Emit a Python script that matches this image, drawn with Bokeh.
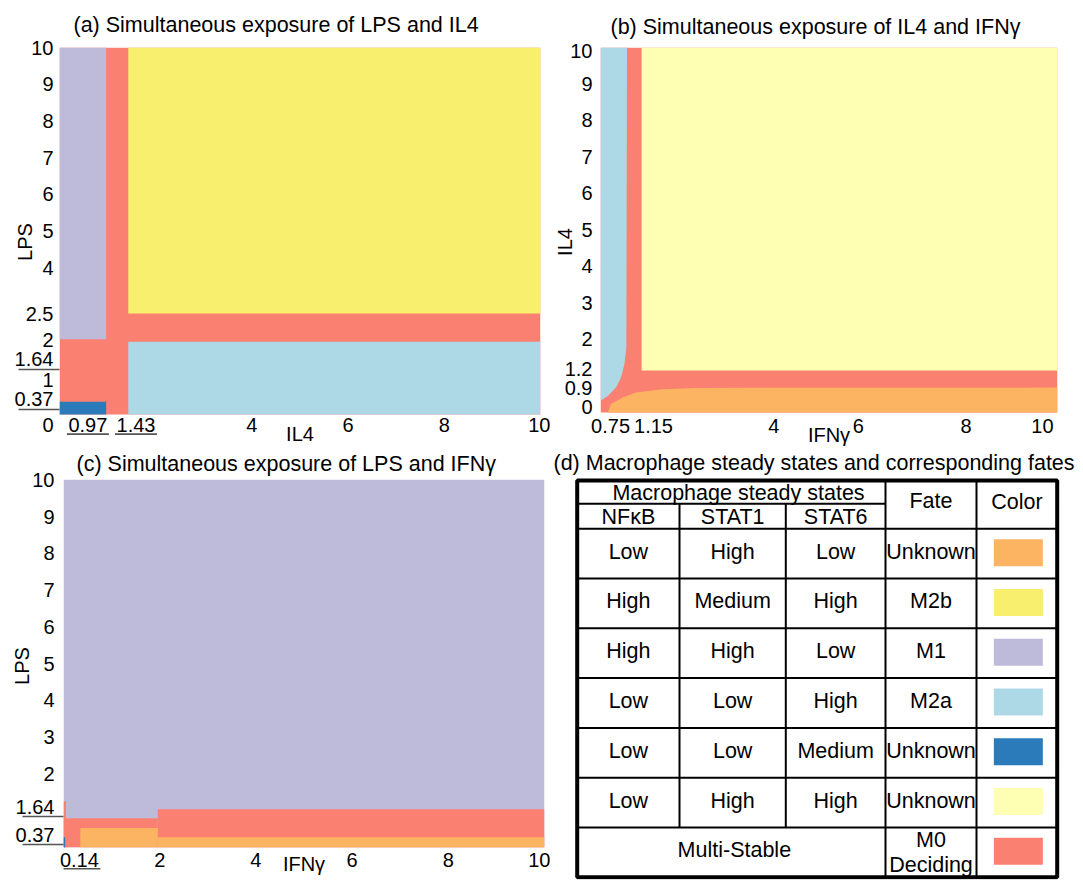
from bokeh.plotting import figure
from bokeh.models import Range1d, FixedTicker
from bokeh.layouts import row, column
from bokeh.embed import file_html
from bokeh.resources import INLINE
from bokeh.core.properties import value

FONT = "Liberation Sans"
TITLE_SIZE = "21.5px"
TICK_SIZE = "20px"
AXLBL_SIZE = "20px"
UL_COLOR = "#555555"
UL_LEN = 41

# ---------------- colours of the steady states ----------------
STATE_COLORS = {
    "U1": "#FDB462",   # Low / High / Low   -> Unknown (orange)
    "M2b": "#F9EF6E",  # High / Medium / High
    "M1": "#BEBADA",   # High / High / Low
    "M2a": "#ADD8E6",  # Low / Low / High
    "U2": "#2B7BBA",   # Low / Low / Medium -> Unknown (dark blue)
    "U3": "#FFFFB3",   # Low / High / High  -> Unknown (pale yellow)
    "M0": "#FA8072",   # multi-stable, deciding
}

# ---------------- panel (a): LPS vs IL4 ----------------
a_title = "(a) Simultaneous exposure of LPS and IL4"
a_il4_lo = [0, 0, 1.43, 1.43, 0]
a_il4_hi = [10, 0.97, 10, 10, 0.97]
a_lps_lo = [0, 2.05, 2.75, 0, 0]
a_lps_hi = [10, 10, 10, 1.98, 0.35]
a_state = ["M0", "M1", "M2b", "M2a", "U2"]
a_xtick_labels = ["0.97", "1.43", "4", "6", "8", "10"]
a_xtick_at = [0.59, 1.59, 4.0, 6.0, 8.0, 10.0]
a_ytick_labels = ["0", "0.37", "1", "1.64", "2", "2.5", "4", "5", "6", "7", "8", "9", "10"]
a_ytick_at = [-0.29, 0.43, 0.95, 1.52, 2.04, 2.74, 4.0, 5.0, 6.0, 7.0, 8.0, 9.0, 10.0]
a_underlined_x = ["0.97", "1.43"]
a_underlined_y = ["0.37", "1.64"]

# ---------------- panel (b): IL4 vs IFNg ----------------
b_title = "(b) Simultaneous exposure of IL4 and IFN\u03b3"
b_ifng_lo = [0, 0.9]
b_ifng_hi = [10, 10]
b_il4_lo = [0, 1.15]
b_il4_hi = [10, 10]
b_state = ["M0", "U3"]
b_m2a_ifng = [0, 0.58, 0.566, 0.523, 0.449, 0.34, 0.159, 0]
b_m2a_il4 = [10, 10, 1.77, 1.32, 0.95, 0.68, 0.45, 0.32]
b_u1_ifng = [0.159, 0.231, 0.486, 0.776, 1.357, 2.083, 10, 10]
b_u1_il4 = [0, 0.228, 0.408, 0.544, 0.636, 0.671, 0.68, 0]
b_xtick_labels = ["0.75", "1.15", "4", "6", "8", "10"]
b_xtick_at = [0.22, 1.16, 3.79, 5.64, 8.0, 9.67]
b_ytick_labels = ["0", "0.9", "1.2", "2", "3", "4", "5", "6", "7", "8", "9", "10"]
b_ytick_at = [0.14, 0.68, 1.18, 2.0, 3.0, 4.0, 5.0, 6.0, 7.0, 8.0, 9.0, 9.9]

# ---------------- panel (c): LPS vs IFNg ----------------
c_title = "(c) Simultaneous exposure of LPS and IFN\u03b3"
c_ifng_lo = [0, 0, 1.96, 0.35, 1.96, 0, 0]
c_ifng_hi = [10, 1.96, 10, 1.96, 10, 0.05, 0.035]
c_lps_lo = [0, 0, 0, 0, 0, 0, 0]
c_lps_hi = [10, 0.79, 1.03, 0.52, 0.27, 1.25, 0.27]
c_state = ["M1", "M0", "M0", "U1", "U1", "M0", "U2"]
c_xtick_labels = ["0.14", "2", "4", "6", "8", "10"]
c_xtick_at = [0.33, 2.0, 4.0, 6.0, 8.0, 10.0]
c_ytick_labels = ["0.37", "1.64", "2", "3", "4", "5", "6", "7", "8", "9", "10"]
c_ytick_at = [0.32, 1.09, 2.0, 3.0, 4.0, 5.0, 6.0, 7.0, 8.0, 9.0, 10.0]
c_underlined_x = ["0.14"]
c_underlined_y = ["0.37", "1.64"]

# ---------------- panel (d): table ----------------
d_title = "(d) Macrophage steady states and corresponding fates"
tbl_nfkb = ["Low", "High", "High", "Low", "Low", "Low"]
tbl_stat1 = ["High", "Medium", "High", "Low", "Low", "High"]
tbl_stat6 = ["Low", "High", "Low", "High", "Medium", "High"]
tbl_fate = ["Unknown", "M2b", "M1", "M2a", "Unknown", "Unknown", "M0 Deciding"]
tbl_state = ["U1", "M2b", "M1", "M2a", "U2", "U3", "M0"]
tbl_multi = "Multi-Stable"


def base_fig(w, h, bl, br, bt, bb, xr=(0, 10), yr=(0, 10), axes=True, title=None):
    kw = {}
    if not axes:
        kw = dict(x_axis_location=None, y_axis_location=None)
    p = figure(width=w, height=h, x_range=Range1d(*xr), y_range=Range1d(*yr),
               output_backend="svg", toolbar_location=None, tools="",
               min_border_left=bl, min_border_right=br, min_border_top=bt,
               min_border_bottom=bb, title=title, **kw)
    p.outline_line_color = None
    p.grid.visible = False
    p.background_fill_color = "white"
    p.border_fill_color = "white"
    return p


def style_title(p, offset, standoff):
    p.title.text_font = FONT
    p.title.text_font_size = TITLE_SIZE
    p.title.text_font_style = "normal"
    p.title.text_color = "black"
    p.title.align = "left"
    p.title.offset = offset
    p.title.standoff = standoff


def style_axis(ax, at, labels, label_standoff, title, title_standoff, minor=()):
    ax.ticker = FixedTicker(ticks=list(at), minor_ticks=list(minor))
    ax.major_label_overrides = {float(t): l for t, l in zip(at, labels)}
    ax.axis_line_color = None
    ax.major_tick_line_color = None
    ax.major_tick_out = 0
    ax.major_tick_in = 0
    # minor ticks serve as the short rules drawn under some tick labels;
    # the label standoff is reduced by their length so labels stay in place
    if minor:
        ax.minor_tick_line_color = UL_COLOR
        ax.minor_tick_line_width = 1.6
        ax.minor_tick_out = UL_LEN
        label_standoff -= UL_LEN
    else:
        ax.minor_tick_line_color = None
        ax.minor_tick_out = 0
    ax.minor_tick_in = 0
    ax.major_label_standoff = label_standoff
    ax.major_label_text_font = FONT
    ax.major_label_text_font_size = TICK_SIZE
    ax.major_label_text_color = "black"
    ax.axis_label = title
    ax.axis_label_text_font = FONT
    ax.axis_label_text_font_size = AXLBL_SIZE
    ax.axis_label_text_font_style = "normal"
    ax.axis_label_text_color = "black"
    ax.axis_label_standoff = title_standoff


def x_underlines(p, at, labels, which, y, px_x, px_y):
    xs = [t for t, l in zip(at, labels) if l in which]
    p.quad(left=[t - 21 / px_x for t in xs], right=[t + 21 / px_x for t in xs],
           bottom=[y - 0.8 / px_y] * len(xs), top=[y + 0.8 / px_y] * len(xs),
           fill_color=UL_COLOR, line_color=None)


# ---------- (a) ----------
pa = base_fig(550, 452, 59, 10, 46, 16, yr=(-0.6, 10), title=a_title)
style_title(pa, 14, 21)
AX, AY = 481 / 10.0, 390 / 10.6          # pixels per data unit
pa.quad(left=a_il4_lo, right=a_il4_hi, bottom=a_lps_lo, top=a_lps_hi,
        fill_color=[STATE_COLORS[s] for s in a_state], line_color=None)
style_axis(pa.xaxis[0], a_xtick_at, a_xtick_labels, -19, "IL4", -12)
a_minor = [t - 11 / AY for t, l in zip(a_ytick_at, a_ytick_labels) if l in a_underlined_y]
style_axis(pa.yaxis[0], a_ytick_at, a_ytick_labels, 6, "LPS", -24, minor=a_minor)
x_underlines(pa, a_xtick_at, a_xtick_labels, a_underlined_x, -19.7 / AY, AX, AY)

# ---------- (b) ----------
pb = base_fig(532, 452, 48, 25, 46, 16, yr=(-0.66, 10), title=b_title)
style_title(pb, 10, 18)
pb.quad(left=b_ifng_lo, right=b_ifng_hi, bottom=b_il4_lo, top=b_il4_hi,
        fill_color=[STATE_COLORS[s] for s in b_state], line_color=None)
pb.patch(b_m2a_ifng, b_m2a_il4, fill_color=STATE_COLORS["M2a"], line_color=None)
pb.patch(b_u1_ifng, b_u1_il4, fill_color=STATE_COLORS["U1"], line_color=None)
style_axis(pb.xaxis[0], b_xtick_at, b_xtick_labels, -18, "IFN\u03b3", -12)
style_axis(pb.yaxis[0], b_ytick_at, b_ytick_labels, 8, "IL4", -14)

# ---------- (c) ----------
pc = base_fig(550, 430, 63, 6, 0, 3, yr=(-0.879, 10.743))
CX, CY = 481 / 10.0, 427 / 11.622
pc.quad(left=c_ifng_lo, right=c_ifng_hi, bottom=c_lps_lo, top=c_lps_hi,
        fill_color=[STATE_COLORS[s] for s in c_state], line_color=None)
style_axis(pc.xaxis[0], c_xtick_at, c_xtick_labels, -27, "IFN\u03b3", -17)
c_minor = [t - 9 / CY for t, l in zip(c_ytick_at, c_ytick_labels) if l in c_underlined_y]
style_axis(pc.yaxis[0], c_ytick_at, c_ytick_labels, 9, "LPS", -20, minor=c_minor)
x_underlines(pc, c_xtick_at, c_xtick_labels, c_underlined_x, -21.6 / CY, CX, CY)
pc.text(x=[13 / CX], y=[10 + 16 / CY], text=[c_title], text_align="left",
        text_baseline="middle", text_font=value(FONT), text_font_size=TITLE_SIZE,
        text_color="black")

# ---------- (d) table ----------
pd_ = base_fig(532, 430, 0, 0, 0, 3, xr=(550, 1082), yr=(879, 452), axes=False)
col_x = [576.7, 679, 785.3, 885, 976, 1056.7]
top_y, mid_y, hdr_y, bot_y = 480, 503.3, 528.3, 876.7
nrows = len(tbl_fate)
rh = (bot_y - hdr_y) / nrows
row_edges = [hdr_y + k * rh for k in range(nrows + 1)]

hx0, hx1, hy = [col_x[0]], [col_x[3]], [mid_y]
for yy in row_edges[:-1]:
    hx0.append(col_x[0]); hx1.append(col_x[-1]); hy.append(yy)
pd_.segment(x0=hx0, y0=hy, x1=hx1, y1=hy, line_color="black", line_width=2)
vx = [col_x[1], col_x[2], col_x[3], col_x[4]]
vy0 = [mid_y, mid_y, top_y, top_y]
vy1 = [row_edges[-2], row_edges[-2], bot_y, bot_y]
pd_.segment(x0=vx, y0=vy0, x1=vx, y1=vy1, line_color="black", line_width=2)
pd_.quad(left=[col_x[0]], right=[col_x[-1]], top=[top_y], bottom=[bot_y],
         fill_color=None, line_color="black", line_width=4)

cc = [(col_x[i] + col_x[i + 1]) / 2 for i in range(5)]
tx = [553, 738, cc[0], cc[1], cc[2], cc[3], cc[4]]
ty = [462.5, 492.5, 516.5, 516.5, 516.5, 500, 501.5]
tt = [d_title, "Macrophage steady states", "NF\u03baB", "STAT1", "STAT6", "Fate", "Color"]
ta = ["left"] + ["center"] * 6
for i in range(nrows):
    yc = (row_edges[i] + row_edges[i + 1]) / 2 - 2
    if i < len(tbl_nfkb):
        tx += [cc[0], cc[1], cc[2], cc[3]]
        ty += [yc, yc, yc, yc]
        tt += [tbl_nfkb[i], tbl_stat1[i], tbl_stat6[i], tbl_fate[i]]
        ta += ["center"] * 4
    else:
        parts = tbl_fate[i].split(" ")
        tx += [(col_x[0] + col_x[3]) / 2 + 3, cc[3], cc[3]]
        ty += [yc, yc - 10, yc + 15]
        tt += [tbl_multi, parts[0], parts[1]]
        ta += ["center"] * 3
pd_.text(x=tx, y=ty, text=tt, text_align=ta, text_baseline="middle",
         text_font=value(FONT), text_font_size=TITLE_SIZE, text_color="black")

sw_y = [(row_edges[i] + row_edges[i + 1]) / 2 - 1 for i in range(nrows)]
pd_.rect(x=[cc[4] + 1.5] * nrows, y=sw_y, width=49, height=27,
         fill_color=[STATE_COLORS[s] for s in tbl_state], line_color=None)

layout = column(row(pa, pb), row(pc, pd_))
open("out.html", "w").write(file_html(layout, INLINE))
